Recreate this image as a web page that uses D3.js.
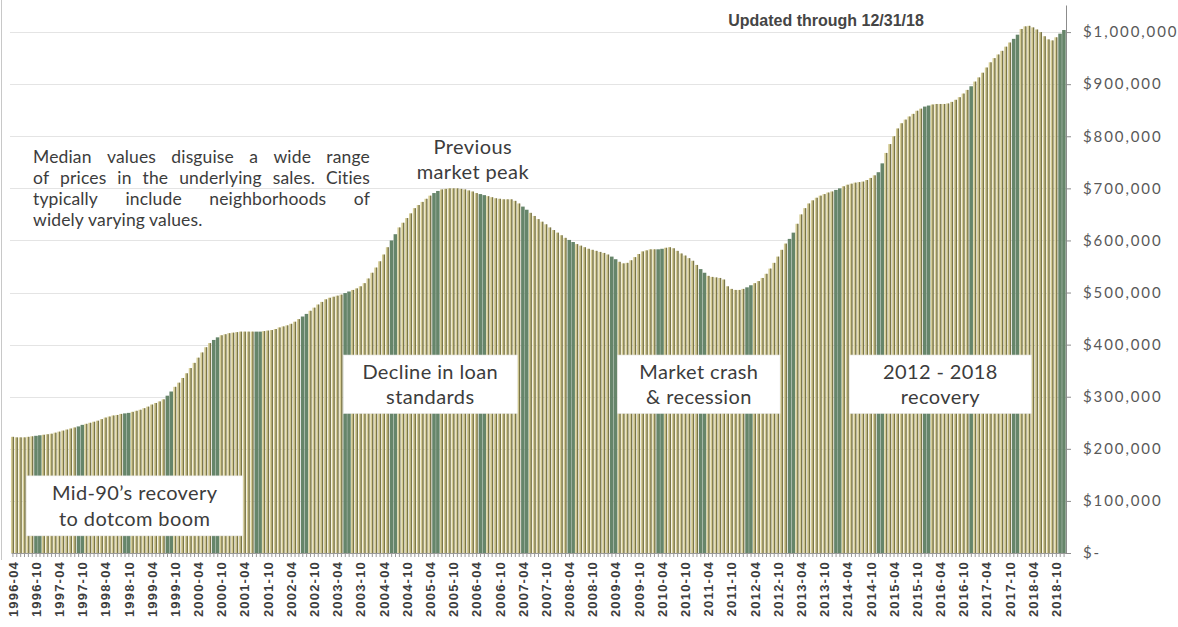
<!DOCTYPE html>
<html><head><meta charset="utf-8">
<script src="https://cdn.jsdelivr.net/npm/d3@7"></script>
<style>
html,body{margin:0;padding:0;background:#fff;}
svg{display:block;}
</style></head><body>
<svg id="chart" width="1178" height="627"></svg>
<script>
// ---------- DATA ----------
const startMonth = new Date(1996, 3, 1);   // 1996-04
const endMonth = new Date(2018, 11, 1);    // 2018-12
const months = d3.timeMonth.range(startMonth, d3.timeMonth.offset(endMonth, 1)).map(d3.timeFormat("%Y-%m"));

// median price, thousands of dollars, one row per year
const v1996 = [223,222,222,222,223,224,225,226,227];
const v1997 = [228,229,231,233,235,237,239,241,243,246,248,250];
const v1998 = [252,254,257,260,262,264,265,267,268,269,271,273];
const v1999 = [275,278,281,285,288,291,295,302,310,319,327,336];
const v2000 = [345,355,365,375,385,395,403,409,414,418,420,422];
const v2001 = [423,424,425,425,425,425,425,425,426,427,428,430];
const v2002 = [433,435,437,440,444,449,454,459,465,471,477,482];
const v2003 = [487,490,492,494,496,499,502,505,508,512,518,527];
const v2004 = [538,548,560,573,587,600,612,625,634,643,652,662];
const v2005 = [668,674,680,686,691,695,698,699,700,700,700,699];
const v2006 = [698,696,694,691,689,687,685,683,681,680,679,679];
const v2007 = [679,676,671,665,659,653,647,641,636,631,625,620];
const v2008 = [615,610,605,601,597,593,590,587,584,582,580,578];
const v2009 = [576,573,569,564,559,556,557,562,568,574,579,581];
const v2010 = [583,583,583,584,586,587,585,580,575,571,566,561];
const v2011 = [553,545,538,532,530,529,528,525,512,507,505,505];
const v2012 = [507,510,514,518,522,528,536,546,557,569,582,594];
const v2013 = [603,615,632,650,662,671,677,682,686,689,692,694];
const v2014 = [697,700,704,707,709,711,712,713,716,720,725,731];
const v2015 = [748,768,785,800,815,825,832,838,843,849,853,857];
const v2016 = [859,861,862,862,862,863,866,870,875,882,889,896];
const v2017 = [905,913,922,932,942,950,957,964,972,980,987,995];
const v2018 = [1006,1011,1012,1009,1005,1000,992,986,984,990,997,1004];

const medianPrice = [].concat(v1996,v1997,v1998,v1999,v2000,v2001,v2002,v2003,v2004,v2005,v2006,
  v2007,v2008,v2009,v2010,v2011,v2012,v2013,v2014,v2015,v2016,v2017,v2018).map(k => k * 1000);

const yTicks = [0,100000,200000,300000,400000,500000,600000,700000,800000,900000,1000000];
const tickLabels = months.filter((m, i) => i % 6 === 0);

const noteLines = ["Median values disguise a wide range",
                   "of prices in the underlying sales. Cities",
                   "typically include neighborhoods of",
                   "widely varying values."];
const updatedText = "Updated through 12/31/18";
const peakLines = ["Previous", "market peak"];
const peakMonth = "2006-03";
// boxes anchored by months and price levels
const boxes = [
  {lines: ["Mid-90\u2019s recovery", "to dotcom boom"], from: "1996-08", to: "2001-04", hi: 148000, lo: 33000},
  {lines: ["Decline in loan", "standards"], from: "2003-06", to: "2007-03", hi: 380000, lo: 268000},
  {lines: ["Market crash", "& recession"], from: "2009-05", to: "2012-11", hi: 380000, lo: 268000},
  {lines: ["2012 - 2018", "recovery"], from: "2014-05", to: "2018-04", hi: 380000, lo: 268000}
];

// ---------- CHART ----------
const svg = d3.select("#chart");
const plotLeft = 11, plotRight = 1066, plotBottom = 553, plotTop = 5;

const x = d3.scaleBand().domain(months).range([plotLeft, plotRight]).paddingInner(0).paddingOuter(0);
const y = d3.scaleLinear().domain([0, 1052000]).range([plotBottom, plotTop]);
const bw = x.bandwidth();

// frame line at left
svg.append("line").attr("x1", 1.5).attr("x2", 1.5).attr("y1", 0).attr("y2", 560)
  .attr("stroke", "#c8c8c8").attr("stroke-width", 1);

// gridlines
svg.append("g").selectAll("line").data(yTicks.filter(d => d > 0)).join("line")
  .attr("x1", 10).attr("x2", plotRight)
  .attr("y1", d => Math.round(y(d)) + 0.5).attr("y2", d => Math.round(y(d)) + 0.5)
  .attr("stroke", "#e4e4e4").attr("stroke-width", 1);

// bars (the moiré-like green banding of the original is reproduced as a style)
const khaki = "#d6cd96", olive = "#7a7649", green = "#66856a";
const isBand = cx => { const p = ((cx - 36) % 44.5 + 44.5) % 44.5; return p < 4.6 || p > 41.5; };
const barG = svg.append("g");
months.forEach((m, i) => {
  const x0 = x(m), cx = x0 + bw / 2, v = medianPrice[i];
  const yt = y(v), h = plotBottom - yt;
  if (isBand(cx)) {
    barG.append("rect").attr("x", x0).attr("y", yt).attr("width", bw - 0.3).attr("height", h).attr("fill", green);
  } else {
    barG.append("rect").attr("x", x0).attr("y", yt).attr("width", bw - 1.4).attr("height", h).attr("fill", khaki);
    barG.append("rect").attr("x", x0 + bw - 2.2).attr("y", yt).attr("width", 1.4).attr("height", h).attr("fill", olive);
  }
});

// x axis
const xAxis = svg.append("g").attr("transform", `translate(0,${plotBottom})`)
  .call(d3.axisBottom(x).tickSize(4).tickSizeOuter(0)
    .tickFormat(d => tickLabels.includes(d) ? d : ""));
xAxis.select(".domain").attr("stroke", "#9a9a9a");
xAxis.selectAll(".tick line").attr("stroke", "#9a9a9a");
xAxis.selectAll(".tick text")
  .attr("transform", "rotate(-90)")
  .attr("text-anchor", "end")
  .attr("x", -8).attr("y", 0).attr("dy", "0.36em")
  .attr("font-family", "Liberation Sans, Arial, sans-serif")
  .attr("font-weight", "bold").attr("font-size", 13)
  .attr("letter-spacing", 1.2)
  .attr("fill", "#3d3d3d");

// y axis on the right
const yAxis = svg.append("g").attr("transform", `translate(${plotRight},0)`)
  .call(d3.axisRight(y).tickValues(yTicks).tickSize(5).tickSizeOuter(0)
    .tickFormat(d => d === 0 ? "$-" : "$" + d3.format(",")(d)));
yAxis.select(".domain").attr("stroke", "#8c8c8c");
yAxis.selectAll(".tick line").attr("stroke", "#8c8c8c");
yAxis.selectAll(".tick text")
  .attr("x", 17)
  .attr("font-family", "Lato, sans-serif").attr("font-size", 15)
  .attr("letter-spacing", 1.9)
  .attr("fill", "#595959");

// ---------- TEXT ----------
const txtColor = "#3c3c3c";
svg.append("text").attr("x", 826).attr("y", 20).attr("dy", "0.36em")
  .attr("text-anchor", "middle")
  .attr("font-family", "Liberation Sans, Arial, sans-serif").attr("font-weight", "bold")
  .attr("font-size", 16).attr("fill", "#454545").text(updatedText);

// justified note
const noteG = svg.append("g").attr("font-family", "Lato, sans-serif").attr("font-size", 17.5)
  .attr("letter-spacing", 0.15).attr("fill", txtColor);
const nx0 = 33, nx1 = 370, ny0 = 163, nlh = 21;
noteLines.forEach((line, li) => {
  const words = line.split(" ");
  const yy = ny0 + li * nlh;
  const nodes = words.map(w => noteG.append("text").attr("y", yy).text(w));
  const widths = nodes.map(n => n.node().getComputedTextLength());
  const total = d3.sum(widths);
  const last = li === noteLines.length - 1;
  const gap = last ? 4 : Math.max(2.5, (nx1 - nx0 - total) / (words.length - 1));
  let xx = nx0;
  nodes.forEach((n, k) => { n.attr("x", xx); xx += widths[k] + gap; });
});

// previous peak
const peakX = x(peakMonth) + bw / 2;
svg.append("g").selectAll("text").data(peakLines).join("text")
  .attr("x", peakX).attr("y", (d, i) => 147 + i * 25).attr("dy", "0.36em")
  .attr("text-anchor", "middle").attr("font-family", "Lato, sans-serif").attr("font-size", 20)
  .attr("letter-spacing", 0.4)
  .attr("fill", txtColor).text(d => d);

// boxes
boxes.forEach(b => {
  const bx0 = x(b.from), bx1 = x(b.to);
  const by0 = y(b.hi), by1 = y(b.lo);
  const g = svg.append("g");
  g.append("rect").attr("x", bx0).attr("y", by0).attr("width", bx1 - bx0).attr("height", by1 - by0)
    .attr("fill", "#ffffff").attr("stroke", "#ececec").attr("stroke-width", 0.6);
  const cx = (bx0 + bx1) / 2, cy = (by0 + by1) / 2;
  g.selectAll("text").data(b.lines).join("text")
    .attr("x", cx).attr("y", (d, i) => cy + (i - 0.5) * 25.5).attr("dy", "0.36em")
    .attr("text-anchor", "middle").attr("font-family", "Lato, sans-serif").attr("font-size", 20)
    .attr("letter-spacing", 0.4)
    .attr("fill", txtColor).text(d => d);
});
</script>
</body></html>
